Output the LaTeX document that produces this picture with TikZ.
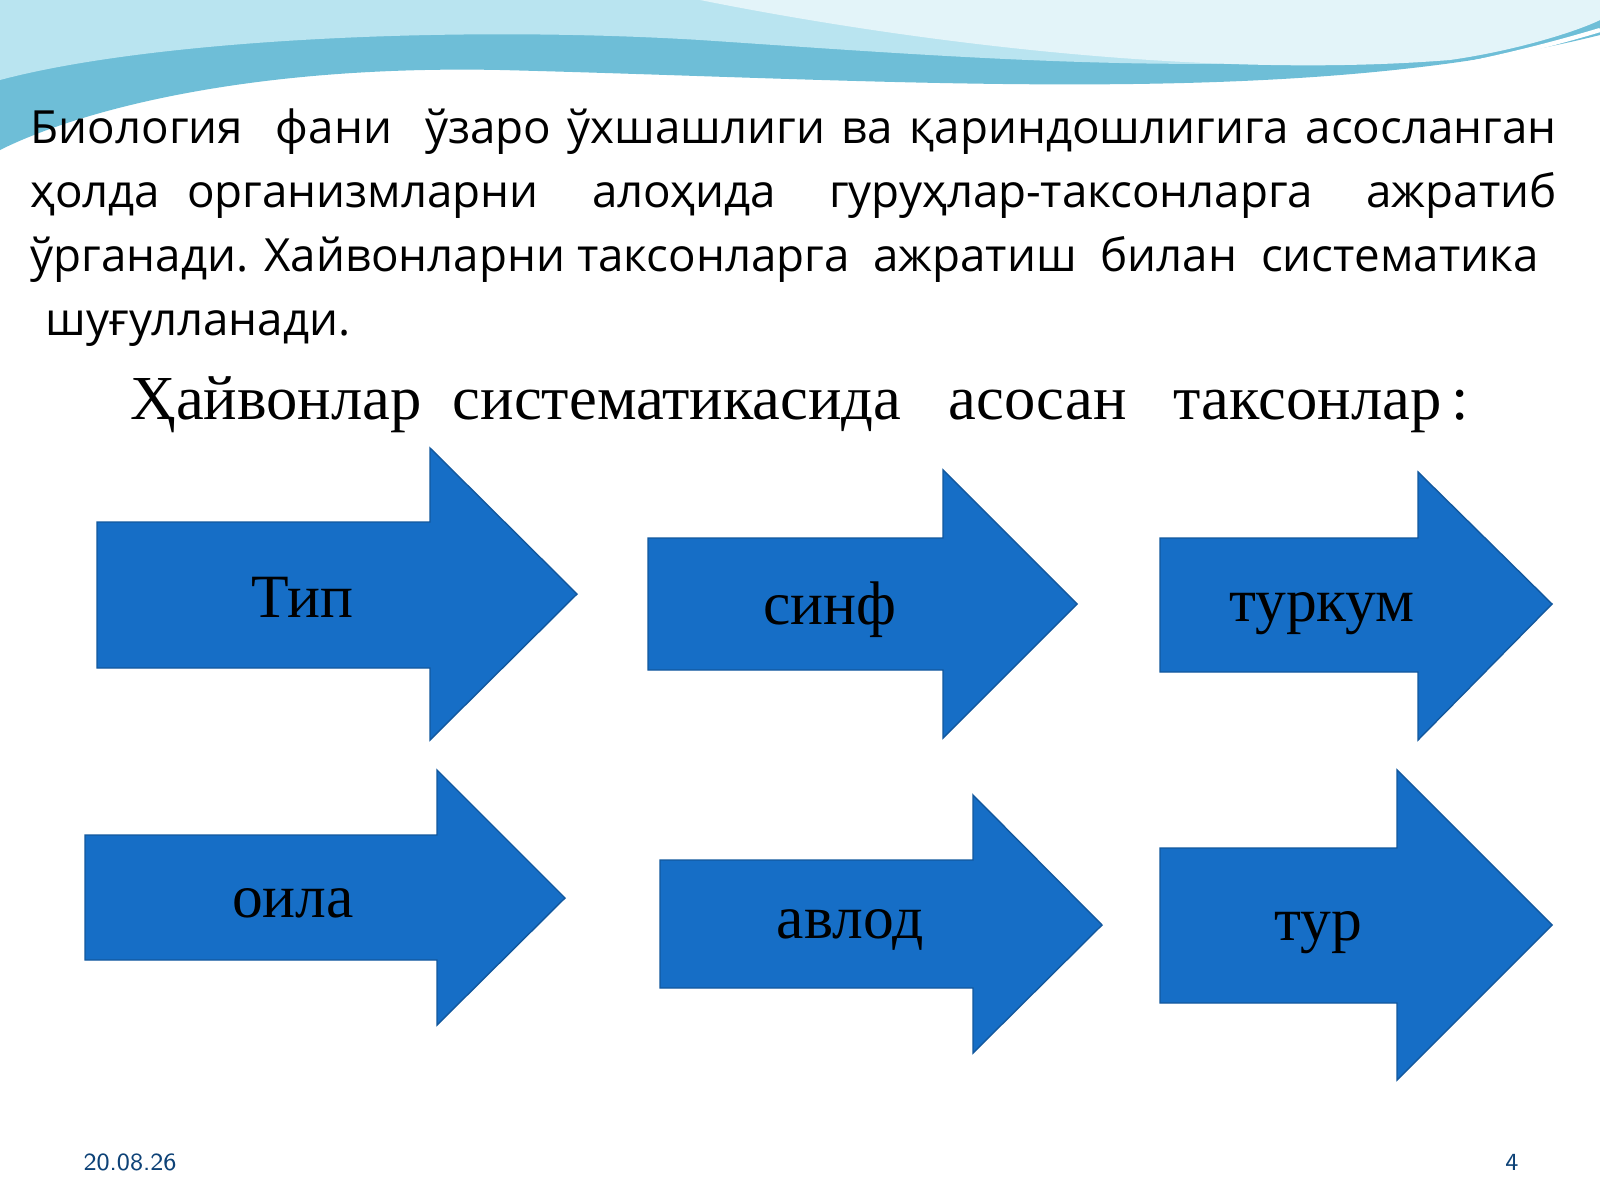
\documentclass[tikz,border=0pt]{standalone}
\usepackage{fontspec}
\setmainfont{Open Sans}
\newfontfamily\serifcyr{Liberation Serif}
\usetikzlibrary{positioning}
\definecolor{arrowblue}{RGB}{22,110,198}
\definecolor{wavedark}{RGB}{110,190,215}
\definecolor{wavelight}{RGB}{185,228,240}
\tikzset{
    taxon/.style={fill=arrowblue, draw=arrowblue!80!black, line width=0.4pt},
    taxlabel/.style={font=\serifcyr\fontsize{17.5}{20}\selectfont, text=black},
}
\begin{document}
\begin{tikzpicture}[x=0.01cm, y=-0.01cm]
    % page
    \useasboundingbox (0,0) rectangle (1600,1200);
    \fill[white] (0,0) rectangle (1600,1200);

    % top waves
    \fill[wavedark] (0,0) -- (1600,0) -- (1600,35) .. controls (1300,110) and (900,80) .. (500,70)
        .. controls (250,65) and (80,110) .. (0,150) -- cycle;
    \fill[wavelight] (0,0) -- (1600,0) -- (1600,20) .. controls (1350,90) and (1000,60) .. (700,40)
        .. controls (450,25) and (150,40) .. (0,80) -- cycle;
    \fill[white!60!wavelight] (700,0) .. controls (900,40) and (1200,80) .. (1450,60)
        .. controls (1520,50) and (1580,30) .. (1600,20) -- (1600,0) -- cycle;
    \draw[white, line width=1.2pt] (0,175) .. controls (200,100) and (600,90) .. (1000,100)
        .. controls (1300,110) and (1500,60) .. (1600,30);

    % intro text
    \node[anchor=north west, inner sep=0pt, text width=15.25cm, align=justify,
          font=\fontsize{13}{18.2}\selectfont] (intro) at (30,108)
        {Биология \ фани \ ўзаро ўхшашлиги ва қариндошлигига асосланган\linebreak
         ҳолда организмларни \ алоҳида \ гуруҳлар-таксонларга \ ажратиб\linebreak
         ўрганади. Хайвонларни таксонларга \ ажратиш \ билан \ систематика\\
         \hspace*{0.15cm}шуғулланади.};

    % heading
    \node[font=\serifcyr\fontsize{17.8}{21}\selectfont] (heading) at (800,405)
        {Ҳайвонлар \ систематикасида \ \ асосан \ \ таксонлар\,:};

    % arrows, first row
    \draw[taxon] (97,522) -- (430,522) -- (430,448) -- (577,594) -- (430,740) -- (430,668) -- (97,668) -- cycle;
    \draw[taxon] (648,538) -- (943,538) -- (943,470) -- (1077,604) -- (943,738) -- (943,670) -- (648,670) -- cycle;
    \draw[taxon] (1160,538) -- (1418,538) -- (1418,472) -- (1552,604) -- (1418,740) -- (1418,672) -- (1160,672) -- cycle;
    % arrows, second row
    \draw[taxon] (85,835) -- (437,835) -- (437,770) -- (565,898) -- (437,1025) -- (437,960) -- (85,960) -- cycle;
    \draw[taxon] (660,860) -- (973,860) -- (973,795) -- (1102,925) -- (973,1053) -- (973,988) -- (660,988) -- cycle;
    \draw[taxon] (1160,848) -- (1397,848) -- (1397,770) -- (1552,925) -- (1397,1080) -- (1397,1003) -- (1160,1003) -- cycle;

    % labels
    \node[taxlabel] (tip) at (302,597) {Тип};
    \node[taxlabel] (sinf) at (830,610) {синф};
    \node[taxlabel] (turkum) at (1322,614) {туркум};
    \node[taxlabel] (oila) at (293,903) {оила};
    \node[taxlabel] (avlod) at (850,930) {авлод};
    \node[taxlabel] (tur) at (1318,933) {тур};

    % footer
    \node[font=\fontsize{7}{8}\selectfont\sffamily, text=arrowblue!60!black] (date) at (130,1162) {20.08.26};
    \node[font=\fontsize{7}{8}\selectfont\sffamily, text=arrowblue!60!black] (page) at (1512,1162) {4};
\end{tikzpicture}
\end{document}
